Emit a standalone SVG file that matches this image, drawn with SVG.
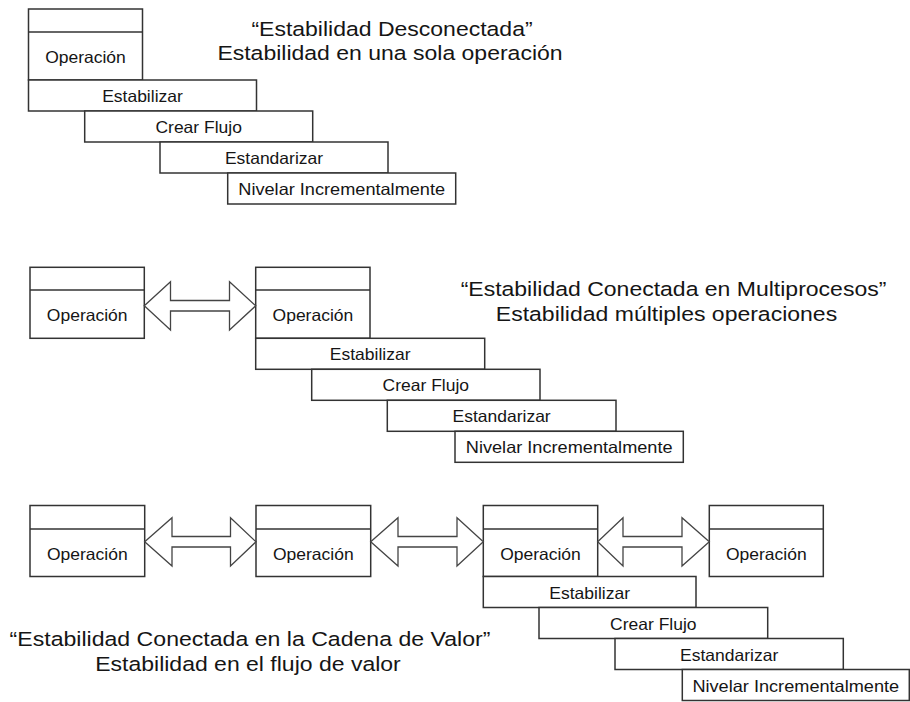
<svg xmlns="http://www.w3.org/2000/svg" width="910" height="702" viewBox="0 0 910 702">
  <style>
    .box { fill: #ffffff; stroke: #333333; stroke-width: 1.5; }
    .div { stroke: #333333; stroke-width: 1.5; }
    .arrow { fill: #ffffff; stroke: #444444; stroke-width: 1.3; stroke-linejoin: miter; }
    .lbl { font-family: "Liberation Sans", Arial, sans-serif; font-size: 16.5px; fill: #151515; text-anchor: middle; }
    .title { font-family: "Liberation Sans", Arial, sans-serif; font-size: 20.5px; fill: #151515; text-anchor: middle; }
  </style>

  <rect width="910" height="702" fill="#ffffff"/>

  <!-- Section 1: single operation -->
  <g id="s1-op">
    <rect class="box" x="28.5" y="9" width="114" height="71"/>
    <line class="div" x1="28.5" y1="32" x2="142.5" y2="32"/>
    <text class="lbl" x="85.5" y="63" textLength="80.7" lengthAdjust="spacingAndGlyphs">Operación</text>
  </g>
  <g id="s1-estabilizar">
    <rect class="box" x="28.5" y="80" width="228" height="31"/>
    <text class="lbl" x="142.5" y="102" textLength="80.7" lengthAdjust="spacingAndGlyphs">Estabilizar</text>
  </g>
  <g id="s1-flujo">
    <rect class="box" x="84.7" y="111" width="228" height="31"/>
    <text class="lbl" x="198.7" y="133" textLength="86.5" lengthAdjust="spacingAndGlyphs">Crear Flujo</text>
  </g>
  <g id="s1-estandarizar">
    <rect class="box" x="160" y="142" width="228" height="31"/>
    <text class="lbl" x="274" y="164" textLength="98.2" lengthAdjust="spacingAndGlyphs">Estandarizar</text>
  </g>
  <g id="s1-nivelar">
    <rect class="box" x="227.7" y="173" width="228" height="31"/>
    <text class="lbl" x="341.7" y="195" textLength="206.8" lengthAdjust="spacingAndGlyphs">Nivelar Incrementalmente</text>
  </g>
  <g id="s1-title">
    <text class="title" x="392" y="36" textLength="281.2" lengthAdjust="spacingAndGlyphs">“Estabilidad Desconectada”</text>
    <text class="title" x="390" y="60" textLength="345.2" lengthAdjust="spacingAndGlyphs">Estabilidad en una sola operación</text>
  </g>

  <!-- Section 2: two connected operations -->
  <g id="s2-op1">
    <rect class="box" x="30" y="267.3" width="114.3" height="71"/>
    <line class="div" x1="30" y1="290" x2="144.3" y2="290"/>
    <text class="lbl" x="87.2" y="321.3" textLength="80.7" lengthAdjust="spacingAndGlyphs">Operación</text>
  </g>
  <g id="s2-op2">
    <rect class="box" x="255.7" y="267.3" width="114.3" height="71"/>
    <line class="div" x1="255.7" y1="290" x2="370" y2="290"/>
    <text class="lbl" x="312.9" y="321.3" textLength="80.7" lengthAdjust="spacingAndGlyphs">Operación</text>
  </g>
  <g id="s2-estabilizar">
    <rect class="box" x="255.7" y="338.3" width="229" height="31"/>
    <text class="lbl" x="370.2" y="360.3" textLength="80.7" lengthAdjust="spacingAndGlyphs">Estabilizar</text>
  </g>
  <g id="s2-flujo">
    <rect class="box" x="311.7" y="369.3" width="228.3" height="31"/>
    <text class="lbl" x="425.8" y="391.3" textLength="86.5" lengthAdjust="spacingAndGlyphs">Crear Flujo</text>
  </g>
  <g id="s2-estandarizar">
    <rect class="box" x="387.3" y="400.3" width="228.7" height="31"/>
    <text class="lbl" x="501.6" y="422.3" textLength="98.2" lengthAdjust="spacingAndGlyphs">Estandarizar</text>
  </g>
  <g id="s2-nivelar">
    <rect class="box" x="455" y="431.3" width="228.3" height="31"/>
    <text class="lbl" x="569.2" y="453.3" textLength="206.8" lengthAdjust="spacingAndGlyphs">Nivelar Incrementalmente</text>
  </g>
  <g id="s2-title">
    <text class="title" x="673.5" y="296" textLength="425.7" lengthAdjust="spacingAndGlyphs">“Estabilidad Conectada en Multiprocesos”</text>
    <text class="title" x="666.5" y="320.5" textLength="341.3" lengthAdjust="spacingAndGlyphs">Estabilidad múltiples operaciones</text>
  </g>

  <!-- Section 3: value stream of four operations -->
  <g id="s3-op1">
    <rect class="box" x="30" y="505.5" width="114.7" height="71"/>
    <line class="div" x1="30" y1="529" x2="144.7" y2="529"/>
    <text class="lbl" x="87.3" y="559.5" textLength="80.7" lengthAdjust="spacingAndGlyphs">Operación</text>
  </g>
  <g id="s3-op2">
    <rect class="box" x="256" y="505.5" width="114.7" height="71"/>
    <line class="div" x1="256" y1="529" x2="370.7" y2="529"/>
    <text class="lbl" x="313.3" y="559.5" textLength="80.7" lengthAdjust="spacingAndGlyphs">Operación</text>
  </g>
  <g id="s3-op3">
    <rect class="box" x="483.3" y="505.5" width="114.4" height="71"/>
    <line class="div" x1="483.3" y1="529" x2="597.7" y2="529"/>
    <text class="lbl" x="540.5" y="559.5" textLength="80.7" lengthAdjust="spacingAndGlyphs">Operación</text>
  </g>
  <g id="s3-op4">
    <rect class="box" x="709.3" y="505.5" width="114" height="71"/>
    <line class="div" x1="709.3" y1="529" x2="823.3" y2="529"/>
    <text class="lbl" x="766.3" y="559.5" textLength="80.7" lengthAdjust="spacingAndGlyphs">Operación</text>
  </g>
  <g id="s3-estabilizar">
    <rect class="box" x="483.3" y="576.5" width="212.7" height="31"/>
    <text class="lbl" x="589.7" y="598.5" textLength="80.7" lengthAdjust="spacingAndGlyphs">Estabilizar</text>
  </g>
  <g id="s3-flujo">
    <rect class="box" x="539" y="607.5" width="228.7" height="31"/>
    <text class="lbl" x="653.3" y="629.5" textLength="86.5" lengthAdjust="spacingAndGlyphs">Crear Flujo</text>
  </g>
  <g id="s3-estandarizar">
    <rect class="box" x="615" y="638.5" width="228.3" height="31"/>
    <text class="lbl" x="729.2" y="660.5" textLength="98.2" lengthAdjust="spacingAndGlyphs">Estandarizar</text>
  </g>
  <g id="s3-nivelar">
    <rect class="box" x="682.3" y="669.5" width="227" height="31"/>
    <text class="lbl" x="795.8" y="691.5" textLength="206.8" lengthAdjust="spacingAndGlyphs">Nivelar Incrementalmente</text>
  </g>
  <g id="s3-title">
    <text class="title" x="250" y="646" textLength="480.8" lengthAdjust="spacingAndGlyphs">“Estabilidad Conectada en la Cadena de Valor”</text>
    <text class="title" x="248" y="671" textLength="305.5" lengthAdjust="spacingAndGlyphs">Estabilidad en el flujo de valor</text>
  </g>

  <!-- Double-headed block arrows between operations -->
  <g id="connectors">
    <polygon class="arrow" points="144.3,305.8 170.5,281.7 170.5,300.5 229.5,300.5 229.5,281.7 255.7,305.8 229.5,330 229.5,311 170.5,311 170.5,330"/>
    <polygon class="arrow" points="144.7,541.8 172,517.7 172,536.5 230.5,536.5 230.5,517.7 256,541.8 230.5,566 230.5,547 172,547 172,566"/>
    <polygon class="arrow" points="370.7,541.8 398,517.7 398,536.5 457,536.5 457,517.7 483.3,541.8 457,566 457,547 398,547 398,566"/>
    <polygon class="arrow" points="597.7,541.8 623,517.7 623,536.5 682,536.5 682,517.7 709.3,541.8 682,566 682,547 623,547 623,566"/>
  </g>
</svg>
